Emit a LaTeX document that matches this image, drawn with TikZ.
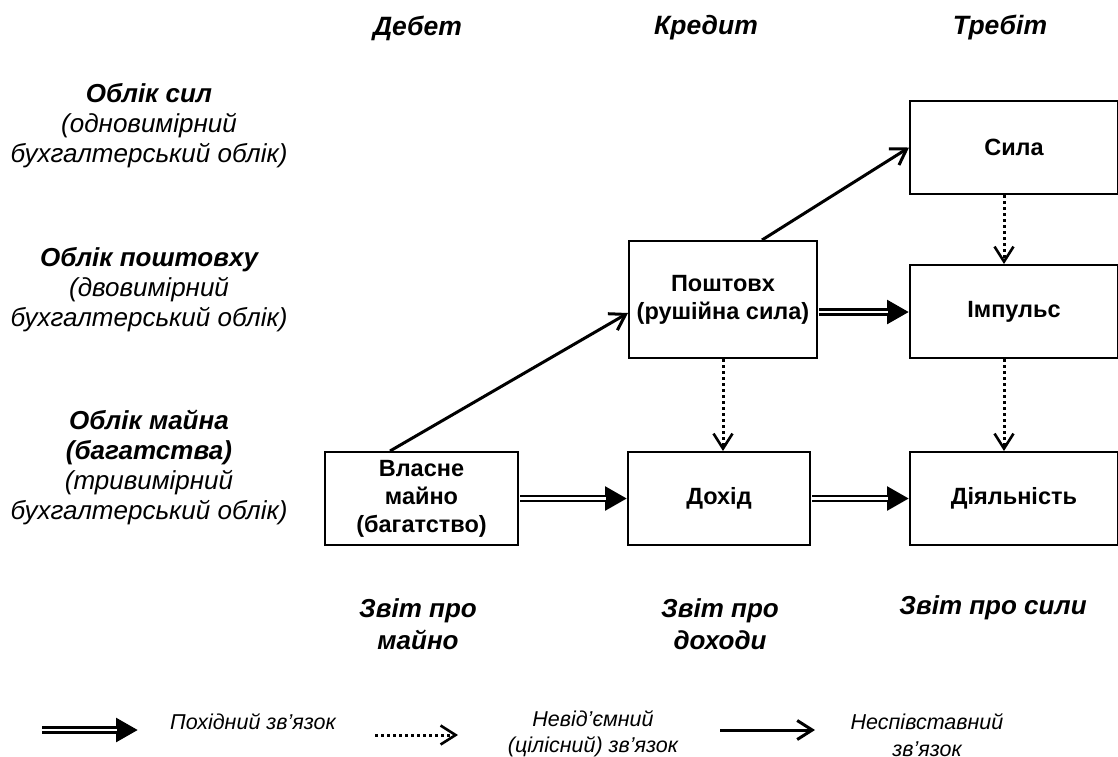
\documentclass[tikz,border=0pt]{standalone}
\usepackage{fontspec}
\setmainfont{Liberation Sans}
\usetikzlibrary{arrows.meta}
\tikzset{
  box/.style={draw, line width=2pt, minimum width=#1, minimum height=93pt, align=center, font=\fontsize{23.5}{28}\selectfont\bfseries, inner sep=0pt},
  hdr/.style={font=\fontsize{26.5}{30}\selectfont\bfseries\itshape, align=center},
  lbl/.style={font=\fontsize{26}{30}\selectfont\itshape, align=center},
  rep/.style={font=\fontsize{26}{32}\selectfont\bfseries\itshape, align=center},
  leg/.style={font=\fontsize{21.5}{26.5}\selectfont\itshape, align=center},
  solidarr/.style={line width=3pt, -{Straight Barb[length=15pt,width=19pt,line width=3pt]}},
  dotarr/.style={line width=3pt, dash pattern=on 3pt off 3pt, -{Straight Barb[length=15pt,width=19pt,line width=2.6pt]}},
  dblarr/.style={line width=7.5pt, -{Triangle[length=22pt,width=23pt]}, shorten <=1pt,
    postaction={draw=white, line width=2.2pt, -, shorten >=21pt, shorten <=1pt}},
}
\begin{document}
\begin{tikzpicture}[x=1pt,y=-1pt]
\useasboundingbox (0,0) rectangle (1118,756);
% column headers
\node[hdr] (hD) at (417.5,28) {Дебет};
\node[hdr] (hK) at (706,28) {Кредит};
\node[hdr] (hT) at (1000,28) {Требіт};
% left labels
\node[lbl] (l1) at (149,126) {\textbf{Облік сил}\\(одновимірний\\бухгалтерський облік)};
\node[lbl] (l2) at (149,290) {\textbf{Облік поштовху}\\(двовимірний\\бухгалтерський облік)};
\node[lbl] (l3) at (149,467) {\textbf{Облік майна}\\\textbf{(багатства)}\\(тривимірний\\бухгалтерський облік)};
% boxes
\node[box=193pt] (vm) at (421.5,498.5) {Власне\\майно\\(багатство)};
\node[box=182pt] (dh) at (719,498.5) {Дохід};
\node[box=208pt] (dl) at (1014,498.5) {Діяльність};
\node[box=188pt, minimum height=117pt] (pt) at (723,299.5) {Поштовх\\(рушійна сила)};
\node[box=208pt] (im) at (1014,311.5) {Імпульс};
\node[box=208pt] (sl) at (1014,147.5) {Сила};
% report labels
\node[rep] (r1) at (418,624) {Звіт про\\майно};
\node[rep] (r2) at (720,624) {Звіт про\\доходи};
\node[rep] (r3) at (993,608) {Звіт про сили};
% connectors
\draw[solidarr] (vm.north west -| 390,0) -- (pt.west |- 0,313);
\draw[solidarr] (pt.north west -| 762,0) -- (sl.west);
\draw[dotarr] (pt.south) -- (dh.north -| pt.south);
\draw[dotarr] (sl.south -| 1004,0) -- (im.north -| 1004,0);
\draw[dotarr] (im.south -| 1004,0) -- (dl.north -| 1004,0);
\draw[dblarr] (vm.east) -- (dh.west);
\draw[dblarr] (dh.east) -- (dl.west);
\draw[dblarr] (pt.east |- 0,312) -- (im.west |- 0,312);
% legend
\coordinate (a1s) at (41,730); \coordinate (a1e) at (138,730);
\draw[dblarr] (a1s) -- (a1e);
\node[leg] (t1) at (253,722) {Похідний зв’язок};
\coordinate (a2s) at (375,735); \coordinate (a2e) at (458,735);
\draw[dotarr] (a2s) -- (a2e);
\node[leg] (t2) at (593,734) {Невід’ємний\\(цілісний) зв’язок};
\coordinate (a3s) at (720,730); \coordinate (a3e) at (815,730);
\draw[solidarr] (a3s) -- (a3e);
\node[leg] (t3) at (927,735) {Неспівставний\\зв’язок};
\end{tikzpicture}
\end{document}
